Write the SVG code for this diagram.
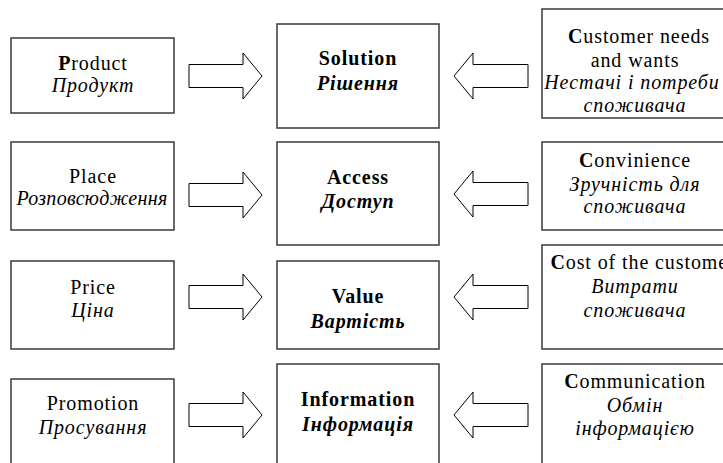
<svg xmlns="http://www.w3.org/2000/svg" width="723" height="463" viewBox="0 0 723 463">
<style>
.box{fill:#fff;stroke:#3a3a3a;stroke-width:1.5}
.arr{fill:#fff;stroke:#000;stroke-width:1}
.b{font-weight:bold}
.i{font-style:italic}
</style>
<defs>
<path id="ra" d="M-73,-11.5 H-19 V-23 L0,0 L-19,23 V11.5 H-73 Z"/>
<path id="la" d="M74,-11.5 H19 V-23 L0,0 L19,23 V11.5 H74 Z"/>
</defs>
<rect width="723" height="463" fill="#fff"/>
<g id="connectors" class="arr">
<use href="#ra" x="262" y="76"/>
<use href="#ra" x="262" y="195"/>
<use href="#ra" x="262" y="297"/>
<use href="#ra" x="262" y="415"/>
<use href="#la" x="454" y="76"/>
<use href="#la" x="454" y="194"/>
<use href="#la" x="454" y="297"/>
<use href="#la" x="454" y="415"/>
</g>
<g id="nodes" font-family="Liberation Serif" font-size="20" letter-spacing="0.9" text-anchor="middle" fill="#000">
<g id="product"><rect class="box" x="11" y="38" width="163" height="75"/>
<text x="93" y="70"><tspan class="b">P</tspan>roduct</text><text class="i" x="93" y="92">Продукт</text></g>
<g id="place"><rect class="box" x="11" y="142" width="163" height="88"/>
<text x="93" y="183">Place</text><text class="i" x="92" y="205" letter-spacing="0.3">Розповсюдження</text></g>
<g id="price"><rect class="box" x="11" y="261" width="163" height="88"/>
<text x="93" y="294">Price</text><text class="i" x="93" y="317">Ціна</text></g>
<g id="promotion"><rect class="box" x="11" y="379" width="163" height="95"/>
<text x="93" y="410">Promotion</text><text class="i" x="93" y="434">Просування</text></g>
<g id="solution"><rect class="box" x="277" y="24" width="162" height="104"/>
<text class="b" x="358" y="65">Solution</text><text class="b i" x="358" y="90">Рішення</text></g>
<g id="access"><rect class="box" x="277" y="142" width="162" height="103"/>
<text class="b" x="358" y="184">Access</text><text class="b i" x="358" y="208">Доступ</text></g>
<g id="value"><rect class="box" x="277" y="261" width="162" height="88"/>
<text class="b" x="358" y="303">Value</text><text class="b i" x="358" y="328">Вартість</text></g>
<g id="information"><rect class="box" x="277" y="364" width="162" height="110"/>
<text class="b" x="358" y="406">Information</text><text class="b i" x="358" y="431">Інформація</text></g>
<g id="customer"><rect class="box" x="542" y="9" width="190" height="109"/>
<text x="639" y="43"><tspan class="b">C</tspan>ustomer needs</text><text x="635" y="67">and wants</text><text class="i" x="632" y="89">Нестачі і потреби</text><text class="i" x="635" y="112">споживача</text></g>
<g id="convinience"><rect class="box" x="542" y="142" width="190" height="88"/>
<text x="635" y="167"><tspan class="b">C</tspan>onvinience</text><text class="i" x="635" y="191">Зручність для</text><text class="i" x="635" y="213">споживача</text></g>
<g id="cost"><rect class="box" x="542" y="245" width="190" height="104"/>
<text x="643" y="269"><tspan class="b">C</tspan>ost of the customer</text><text class="i" x="635" y="293">Витрати</text><text class="i" x="635" y="317">споживача</text></g>
<g id="communication"><rect class="box" x="542" y="364" width="190" height="110"/>
<text x="635" y="388"><tspan class="b">C</tspan>ommunication</text><text class="i" x="635" y="412">Обмін</text><text class="i" x="635" y="435">інформацією</text></g>
</g>
</svg>
